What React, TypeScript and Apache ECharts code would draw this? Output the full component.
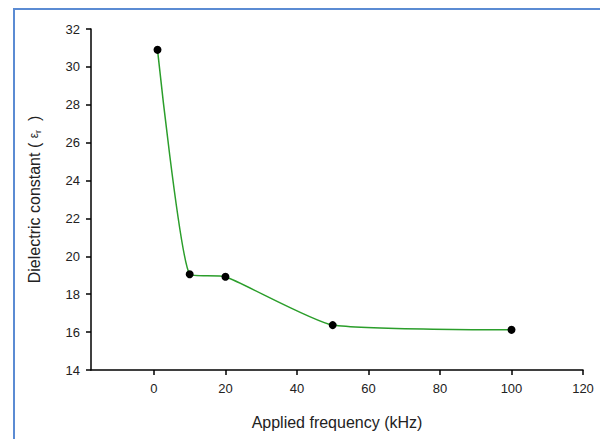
import React, { useEffect, useRef } from "react";
import * as echarts from "echarts";

const frequency = [1, 10, 20, 50, 100];
const dielectric = [30.9, 19.05, 18.92, 16.37, 16.12];
const xTicks = [0, 20, 40, 60, 80, 100, 120];
const xTitle = "Applied frequency (kHz)";

export default function App() {
  const ref = useRef<HTMLDivElement>(null);
  useEffect(() => {
    if (!ref.current) return;
    const chart = echarts.init(ref.current, null, { renderer: "svg" });
    const font = "Liberation Sans, Arial, sans-serif";
    chart.setOption({
      animation: false,
      backgroundColor: "#ffffff",
      graphic: [
        {
          type: "rect",
          shape: { x: 14, y: 9, width: 620, height: 460 },
          style: { fill: "none", stroke: "#5b8bd3", lineWidth: 2 },
          silent: true,
        },
      ],
      grid: { left: 91, right: 17, top: 29, bottom: 69, containLabel: false },
      xAxis: {
        type: "value",
        min: -17.6,
        max: 120,
        splitLine: { show: false },
        axisLine: { onZero: false, lineStyle: { color: "#000", width: 1.5 } },
        axisTick: { length: 5, lineStyle: { color: "#000", width: 1.5 }, customValues: xTicks },
        axisLabel: { customValues: xTicks, color: "#222", fontSize: 13, fontFamily: font, margin: 12 },
        name: xTitle,
        nameLocation: "middle",
        nameGap: 44,
        nameTextStyle: { color: "#222", fontSize: 16, fontFamily: font },
      },
      yAxis: {
        type: "value",
        min: 14,
        max: 32,
        interval: 2,
        splitLine: { show: false },
        axisLine: { show: true, onZero: false, lineStyle: { color: "#000", width: 1.5 } },
        axisTick: { show: true, length: 5, lineStyle: { color: "#000", width: 1.5 } },
        axisLabel: { color: "#222", fontSize: 13, fontFamily: font, margin: 11 },
        name: "Dielectric constant ( {eps|ε}{sub|r}  )",
        nameLocation: "middle",
        nameGap: 49,
        nameRotate: 90,
        nameTextStyle: {
          color: "#222",
          fontSize: 16,
          fontFamily: font,
          rich: {
            eps: { fontSize: 12, fontFamily: font, color: "#222" },
            sub: { fontSize: 9, fontFamily: font, color: "#222", verticalAlign: "bottom", padding: [6, 0, 0, 0] },
          },
        },
      },
      series: [
        {
          type: "line",
          data: frequency.map((f, i) => [f, dielectric[i]]),
          smooth: 0.17,
          symbol: "circle",
          symbolSize: 8,
          itemStyle: { color: "#000" },
          lineStyle: { color: "#2b9e2b", width: 1.5 },
        },
      ],
    });
    return () => chart.dispose();
  }, []);
  return (
    <div
      ref={ref}
      style={{ position: "absolute", left: 0, top: 0, width: 600, height: 439 }}
    />
  );
}
